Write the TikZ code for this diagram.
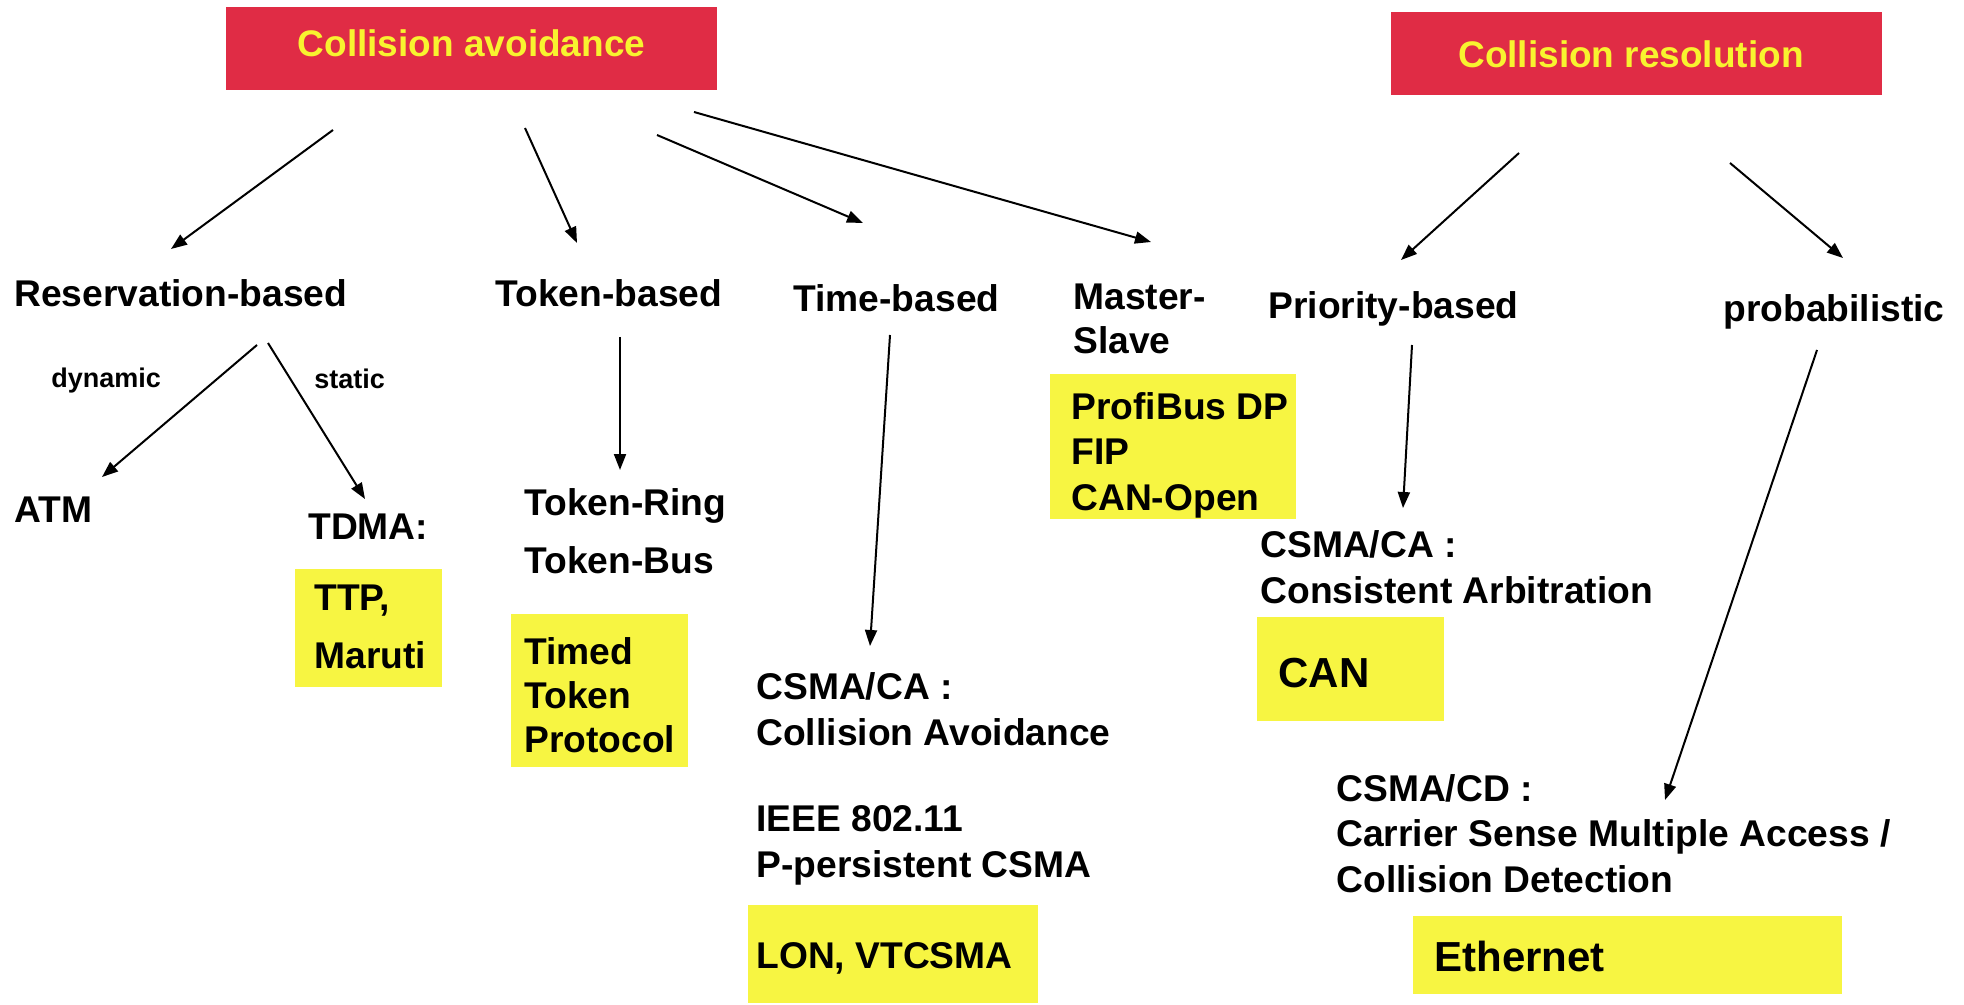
\documentclass[tikz,border=0pt]{standalone}
\usepackage{fontspec}
\setmainfont{Liberation Sans}
\usetikzlibrary{arrows.meta}
\definecolor{hdrred}{HTML}{E02C45}
\definecolor{hiyel}{HTML}{F7F542}
\definecolor{hdrtxt}{HTML}{F8F32F}
\begin{document}
\begin{tikzpicture}[x=0.5pt,y=-0.5pt,
 lbl/.style={anchor=base west, inner sep=0pt, align=left, font=\fontsize{18.6pt}{22.7pt}\selectfont\bfseries},
 widelbl/.style={lbl, font=\fontsize{18.6pt}{29pt}\selectfont\bfseries},
 sml/.style={lbl, font=\fontsize{13.5pt}{16pt}\selectfont\bfseries},
 big/.style={lbl, font=\fontsize{21pt}{25pt}\selectfont\bfseries},
 hdr/.style={anchor=base, inner sep=0pt, text=hdrtxt, font=\fontsize{18.5pt}{22pt}\selectfont\bfseries},
 arr/.style={line width=1pt, -{Triangle[length=8pt,width=6pt]}},
]
\useasboundingbox[fill=white] (0,0) rectangle (1964,1005);
% headers
\fill[hdrred] (226,7) rectangle (717,90);
\node[hdr] (ca) at (471.5,57) {Collision avoidance};
\fill[hdrred] (1391,12) rectangle (1882,95);
\node[hdr] (cr) at (1631,68) {Collision resolution};
% yellow boxes
\fill[hiyel] (295,569) rectangle (442,687);
\fill[hiyel] (511,614) rectangle (688,767);
\fill[hiyel] (1050,374) rectangle (1296,519);
\fill[hiyel] (748,905) rectangle (1038,1003);
\fill[hiyel] (1257,617) rectangle (1444,721);
\fill[hiyel] (1413,916) rectangle (1842,994);
% level 2 (base anchor = last line's baseline)
\node[lbl] (res) at (14,307) {Reservation-based};
\node[lbl] (tok) at (495,307) {Token-based};
\node[lbl] (tim) at (793,312) {Time-based};
\node[lbl, font=\fontsize{18.6pt}{22pt}\selectfont\bfseries] (ms) at (1073,354) {Master-\\Slave};
\node[lbl] (pri) at (1268,319) {Priority-based};
\node[lbl] (pro) at (1723,322) {probabilistic};
% level 3
\node[sml] (dyn) at (51,387) {dynamic};
\node[sml] (sta) at (314,389) {static};
\node[lbl] (atm) at (14,522) {ATM};
\node[lbl] (tdma) at (308,539) {TDMA:};
\node[widelbl] (ttp) at (314,668) {TTP,\\Maruti};
\node[widelbl] (tring) at (524,573) {Token-Ring\\Token-Bus};
\node[lbl, font=\fontsize{18.6pt}{22pt}\selectfont\bfseries] (ttpr) at (524,752) {Timed\\Token\\Protocol};
\node[lbl] (prof) at (1071,510) {ProfiBus DP\\FIP\\CAN-Open};
\node[lbl] (csca) at (756,745) {CSMA/CA :\\Collision Avoidance};
\node[lbl] (ieee) at (756,877) {IEEE 802.11\\P-persistent CSMA};
\node[lbl] (lon) at (756,968) {LON, VTCSMA};
\node[lbl] (cscb) at (1260,603) {CSMA/CA :\\Consistent Arbitration};
\node[big] (can) at (1278,687) {CAN};
\node[lbl] (cscd) at (1336,892) {CSMA/CD :\\Carrier Sense Multiple Access {/}\\Collision Detection};
\node[big] (eth) at (1434,971) {Ethernet};
% connector ends
\coordinate (s1) at (333,130);  \coordinate (e1) at (171,249);
\coordinate (s2) at (525,128);  \coordinate (e2) at (577,243);
\coordinate (s3) at (657,135);  \coordinate (e3) at (863,223);
\coordinate (s4) at (694,112);  \coordinate (e4) at (1151,242);
\coordinate (s5) at (257,345);  \coordinate (e5) at (102,477);
\coordinate (s6) at (268,343);  \coordinate (e6) at (365,499);
\coordinate (s7) at (620,337);  \coordinate (e7) at (620,470);
\coordinate (s8) at (890,335);  \coordinate (e8) at (870,646);
\coordinate (s9) at (1519,153); \coordinate (e9) at (1401,260);
\coordinate (s10) at (1730,163); \coordinate (e10) at (1843,258);
\coordinate (s11) at (1412,345); \coordinate (e11) at (1403,508);
\coordinate (s12) at (1817,350); \coordinate (e12) at (1665,800);
\foreach \i in {1,...,12} { \draw[arr] (s\i) -- (e\i); }
\end{tikzpicture}
\end{document}
